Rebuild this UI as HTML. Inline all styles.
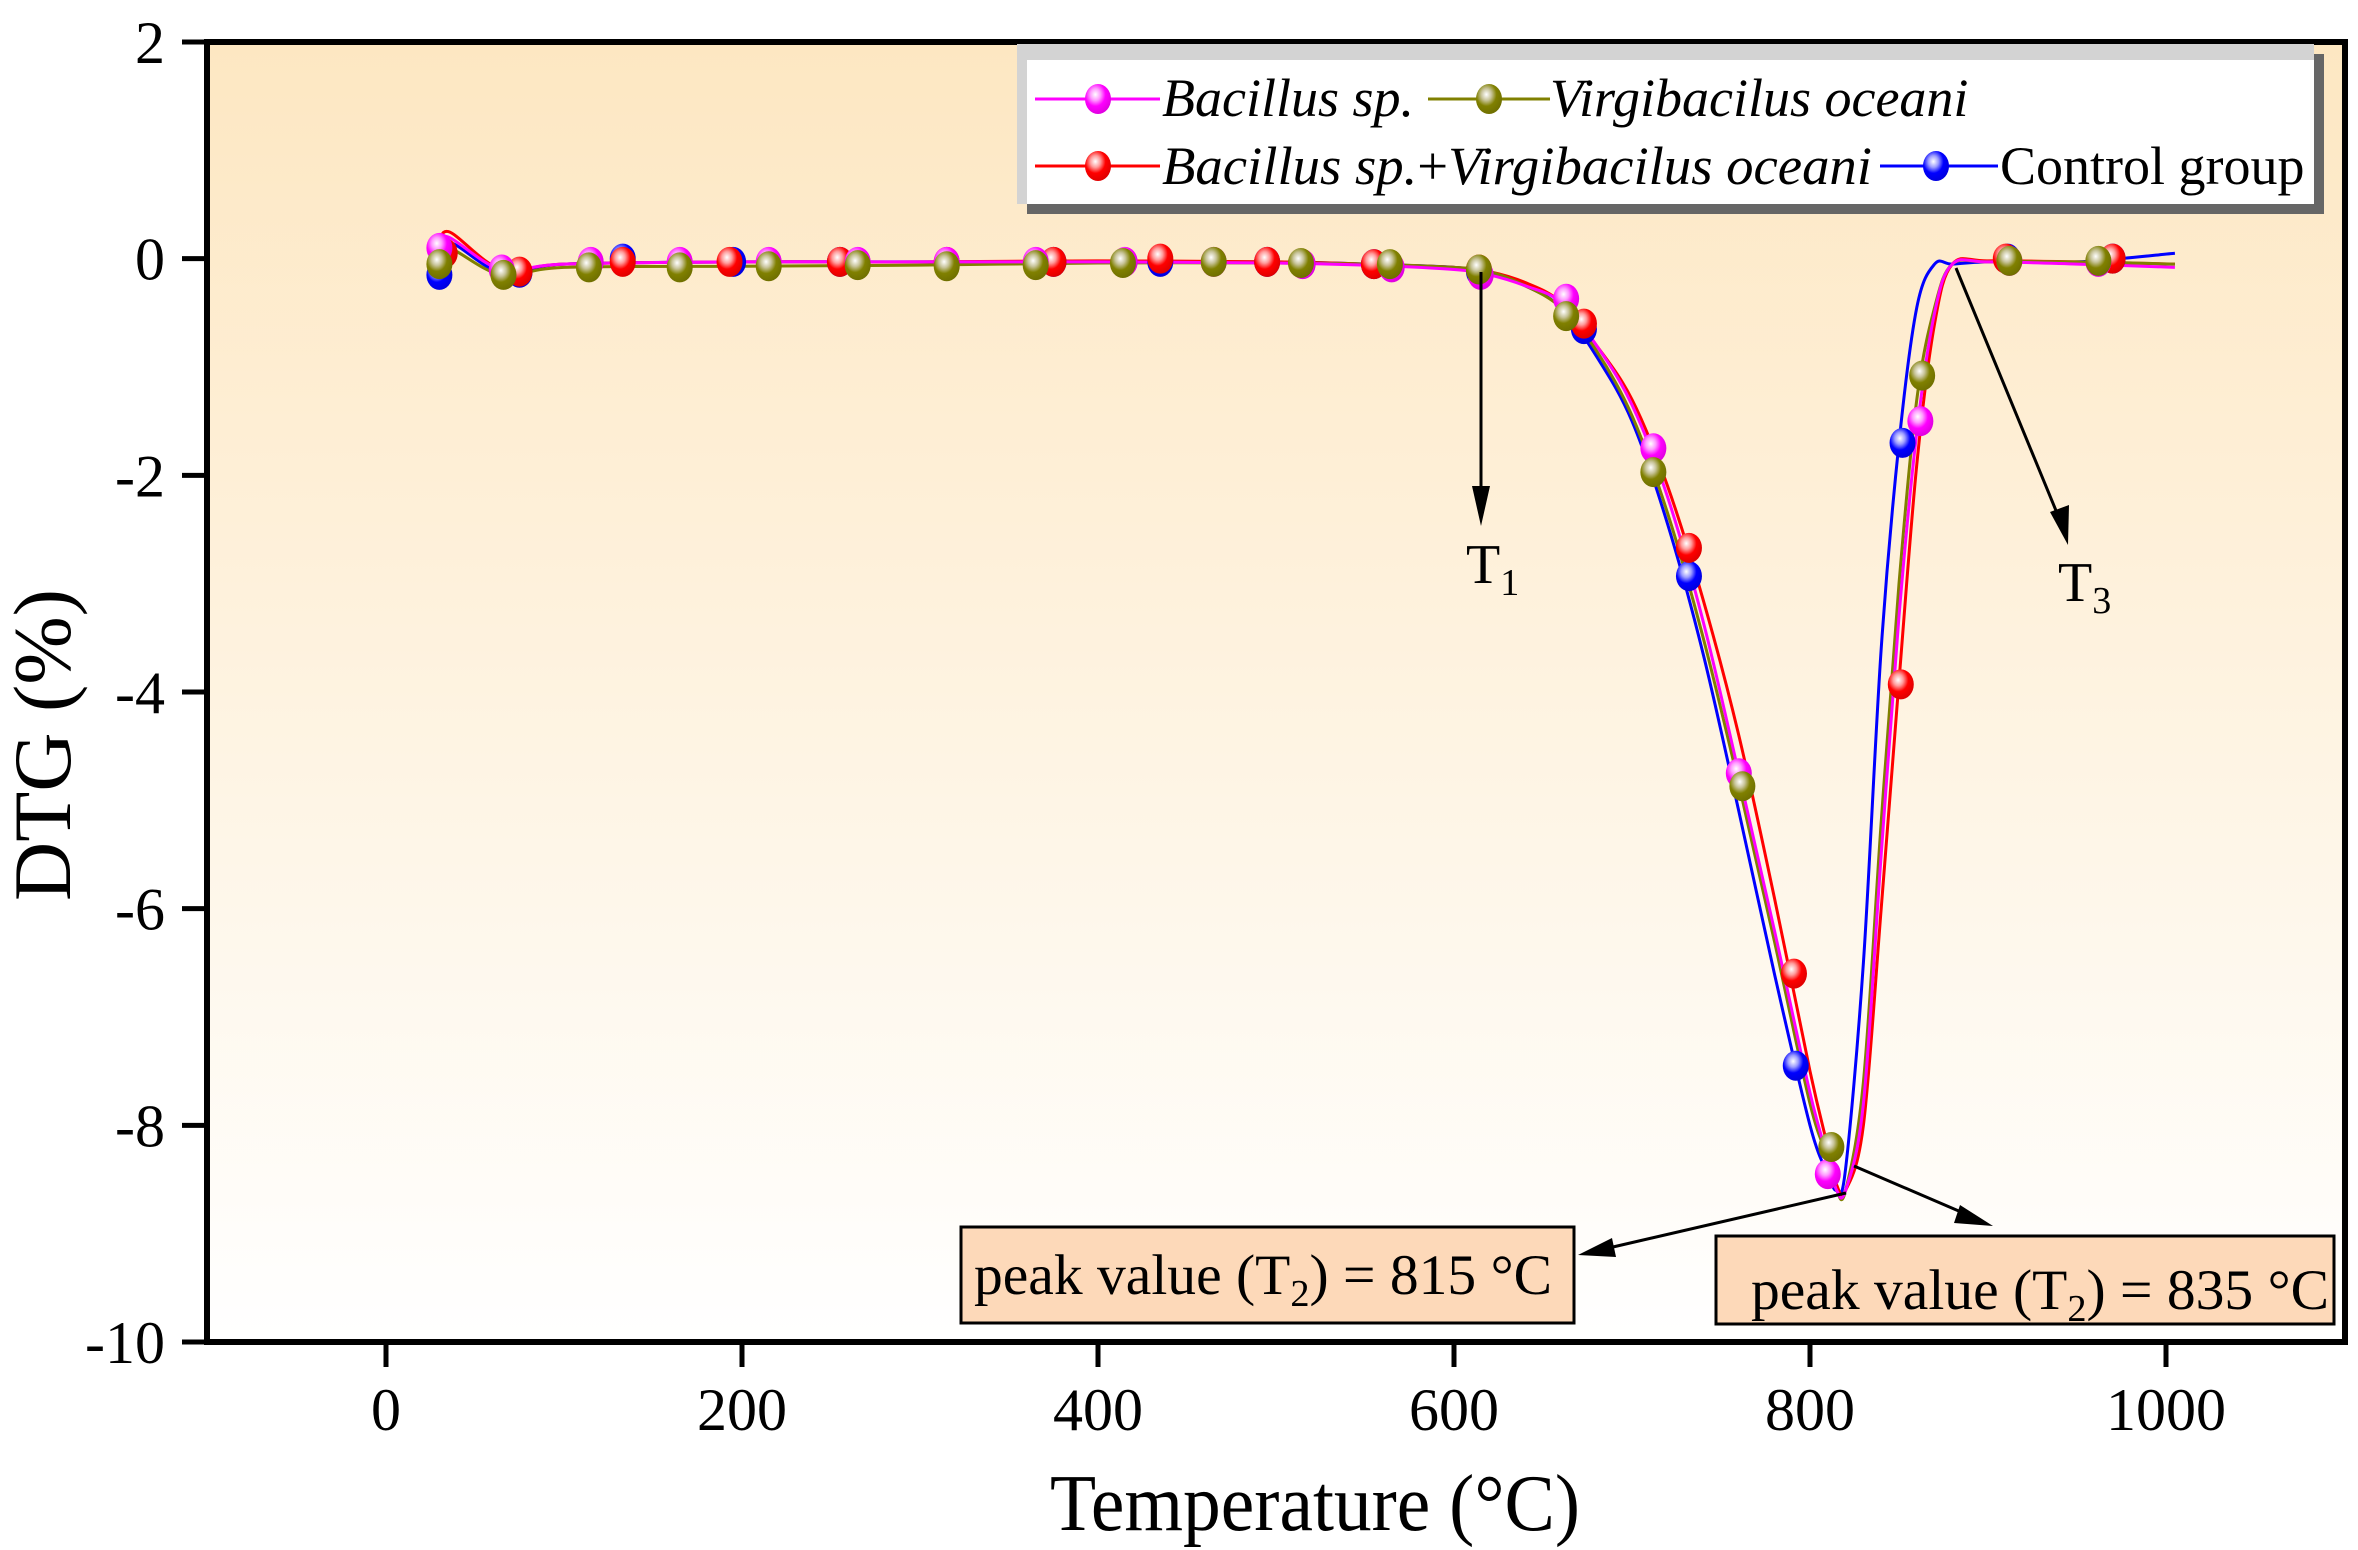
<!DOCTYPE html>
<html><head><meta charset="utf-8"><style>
html,body{margin:0;padding:0;background:#fff;}
svg{display:block;font-family:"Liberation Serif",serif;}
</style></head><body>
<svg id="chart" width="2358" height="1550" viewBox="0 0 2358 1550" xmlns="http://www.w3.org/2000/svg">
<defs>
<linearGradient id="bg" x1="0" y1="0" x2="0" y2="1">
<stop offset="0" stop-color="#fde7c2"/><stop offset="1" stop-color="#ffffff"/>
</linearGradient>
<radialGradient id="g-magenta" cx="0.4" cy="0.35" r="0.65"><stop offset="0" stop-color="#fff"/><stop offset="0.3" stop-color="#ff9cff"/><stop offset="0.6" stop-color="#ff00ff"/><stop offset="1" stop-color="#e000e0"/></radialGradient>
<radialGradient id="g-olive" cx="0.4" cy="0.35" r="0.65"><stop offset="0" stop-color="#fff"/><stop offset="0.3" stop-color="#c8c49a"/><stop offset="0.6" stop-color="#808000"/><stop offset="1" stop-color="#707000"/></radialGradient>
<radialGradient id="g-red" cx="0.4" cy="0.35" r="0.65"><stop offset="0" stop-color="#fff"/><stop offset="0.3" stop-color="#ff9c9c"/><stop offset="0.6" stop-color="#ff0000"/><stop offset="1" stop-color="#e00000"/></radialGradient>
<radialGradient id="g-blue" cx="0.4" cy="0.35" r="0.65"><stop offset="0" stop-color="#fff"/><stop offset="0.3" stop-color="#9c9cff"/><stop offset="0.6" stop-color="#0000ff"/><stop offset="1" stop-color="#0000e0"/></radialGradient>
</defs>
<rect x="207" y="42" width="2138" height="1300" fill="url(#bg)"/>
<g id="series"></g>
<g id="axes"></g>

<g>
<line x1="1481" y1="272" x2="1481" y2="514" stroke="#000" stroke-width="3"/>
<path d="M1472,486 L1481,526 L1490,486 Z" fill="#000"/>
<text x="1466" y="583" font-size="56">T<tspan font-size="38" dy="12">1</tspan></text>
<line x1="1956" y1="268" x2="2064" y2="530" stroke="#000" stroke-width="3"/>
<path d="M2050,512 L2068,545 L2069,505 Z" fill="#000"/>
<text x="2058" y="601" font-size="56">T<tspan font-size="38" dy="12">3</tspan></text>
<line x1="1846" y1="1193" x2="1600" y2="1250" stroke="#000" stroke-width="3"/>
<path d="M1612,1238 L1578,1255 L1616,1257 Z" fill="#000"/>
<line x1="1854" y1="1166" x2="1975" y2="1218" stroke="#000" stroke-width="3"/>
<path d="M1960,1205 L1993,1226 L1954,1223 Z" fill="#000"/>
<rect x="961" y="1227" width="613" height="96" fill="#fdd9b9" stroke="#000" stroke-width="3"/>
<text x="974" y="1294" font-size="57" textLength="578" lengthAdjust="spacingAndGlyphs">peak value (T<tspan font-size="38" dy="12">2</tspan><tspan dy="-12">) = 815 °C</tspan></text>
<rect x="1716" y="1236" width="618" height="88" fill="#fdd9b9" stroke="#000" stroke-width="3"/>
<text x="1751" y="1309" font-size="57" textLength="578" lengthAdjust="spacingAndGlyphs">peak value (T<tspan font-size="38" dy="12">2</tspan><tspan dy="-12">) = 835 °C</tspan></text>
</g>

<g>
<rect x="1027" y="54" width="1297" height="160" fill="#666"/>
<rect x="1017" y="44" width="1297" height="160" fill="#d3d3d3"/>
<rect x="1027" y="60" width="1287" height="144" fill="#fff"/>
<g>
<line x1="1035" y1="99" x2="1160" y2="99" stroke="#ff00ff" stroke-width="3"/><ellipse cx="1098" cy="99" rx="13" ry="15" fill="url(#g-magenta)"/>
<text x="1162" y="116" font-size="54" font-style="italic">Bacillus sp.</text></g>
<g>
<line x1="1428" y1="99" x2="1550" y2="99" stroke="#808000" stroke-width="3"/><ellipse cx="1489" cy="99" rx="13" ry="15" fill="url(#g-olive)"/>
<text x="1550" y="116" font-size="54" font-style="italic">Virgibacilus oceani</text></g>
<g>
<line x1="1035" y1="166" x2="1160" y2="166" stroke="#ff0000" stroke-width="3"/><ellipse cx="1098" cy="166" rx="13" ry="15" fill="url(#g-red)"/>
<text x="1162" y="184" font-size="54" textLength="710" lengthAdjust="spacingAndGlyphs"><tspan font-style="italic">Bacillus sp.</tspan>+<tspan font-style="italic">Virgibacilus oceani</tspan></text></g>
<g>
<line x1="1880" y1="166" x2="1998" y2="166" stroke="#0000ff" stroke-width="3"/><ellipse cx="1936" cy="166" rx="13" ry="15" fill="url(#g-blue)"/>
<text x="2000" y="184" font-size="54">Control group</text></g>
</g>
</svg>
<script>
const xTicks = [0, 200, 400, 600, 800, 1000];
const yTicks = [2, 0, -2, -4, -6, -8, -10];
const lineT = [30,35,65,100,200,300,400,500,550,600,620,640,660,680,700,720,740,760,780,800,810,815,820,830,840,850,860,870,880,900,950,1005];
const bacillusLine = [0.1,0.2,-0.1,-0.05,-0.03,-0.03,-0.03,-0.04,-0.06,-0.1,-0.15,-0.25,-0.4,-0.8,-1.35,-2.2,-3.35,-4.75,-6.2,-7.7,-8.3,-8.6,-8.6,-7.8,-5.5,-3.3,-1.6,-0.5,-0.05,-0.03,-0.05,-0.08];
const virgiLine = [-0.05,0.1,-0.15,-0.08,-0.07,-0.06,-0.04,-0.04,-0.05,-0.08,-0.12,-0.25,-0.45,-0.85,-1.45,-2.35,-3.5,-4.85,-6.3,-7.8,-8.3,-8.6,-8.6,-7.6,-5.2,-3.0,-1.3,-0.45,-0.05,-0.03,-0.03,-0.05];
const combinedLine = [0.05,0.25,-0.1,-0.05,-0.03,-0.03,-0.02,-0.03,-0.05,-0.08,-0.12,-0.22,-0.4,-0.8,-1.3,-2.1,-3.15,-4.4,-5.9,-7.5,-8.2,-8.55,-8.6,-8.0,-6.0,-3.9,-1.9,-0.6,-0.05,-0.02,-0.03,-0.05];
const controlLine = [-0.15,0.15,-0.13,-0.05,-0.03,-0.03,-0.03,-0.03,-0.05,-0.08,-0.13,-0.25,-0.45,-0.9,-1.5,-2.45,-3.65,-5.1,-6.6,-8.0,-8.45,-8.6,-8.4,-6.5,-3.6,-1.7,-0.45,-0.05,-0.05,-0.03,-0.03,0.05];
const bacillusMT = [30,65,115,165,215,265,315,365,415,465,515,565,615,663,712,760,810,862,912,962];
const bacillusMV = [0.1,-0.1,-0.03,-0.03,-0.03,-0.03,-0.03,-0.03,-0.03,-0.03,-0.05,-0.08,-0.15,-0.37,-1.75,-4.75,-8.45,-1.5,-0.02,-0.03];
const combinedMT = [33,75,133,193,255,315,375,435,495,555,614,673,732,791,851,910,970];
const combinedMV = [0.05,-0.12,-0.03,-0.03,-0.03,-0.03,-0.03,0,-0.03,-0.05,-0.1,-0.6,-2.67,-6.6,-3.93,0,0];
const controlMT = [30,75,133,195,255,375,435,495,555,614,673,732,792,852,911,970];
const controlMV = [-0.15,-0.13,0,-0.03,-0.03,-0.03,-0.03,-0.03,-0.05,-0.12,-0.65,-2.93,-7.45,-1.7,0,0];
const virgiMT = [30,66,114,165,215,265,315,365,414,465,514,564,614,663,712,762,812,863,912,962];
const virgiMV = [-0.05,-0.15,-0.08,-0.08,-0.07,-0.06,-0.07,-0.06,-0.04,-0.03,-0.04,-0.05,-0.1,-0.53,-1.97,-4.87,-8.2,-1.08,-0.02,-0.02];

const X0=386, X1=2166, Y2=42, YM10=1342, L=207, R=2345, T=42, B=1342;
const xs = t => X0 + (t/1000)*(X1-X0);
const ys = v => Y2 + (2-v)/12*(YM10-Y2);
const NS='http://www.w3.org/2000/svg';
const sg=document.getElementById('series'), ax=document.getElementById('axes');

function smoothPath(tx, vy){
  const p = tx.map((t,i)=>[xs(t),ys(vy[i])]);
  let d='M'+p[0][0]+','+p[0][1];
  for(let i=0;i<p.length-1;i++){
    const p0=p[i-1]||p[i], p1=p[i], p2=p[i+1], p3=p[i+2]||p2;
    const c1=[p1[0]+(p2[0]-p0[0])/6, p1[1]+(p2[1]-p0[1])/6];
    const c2=[p2[0]-(p3[0]-p1[0])/6, p2[1]-(p3[1]-p1[1])/6];
    d+=' C'+c1+' '+c2+' '+p2;
  }
  return d;
}
function drawLine(vals,color,name){
  const e=document.createElementNS(NS,'path');
  e.setAttribute('d',smoothPath(lineT,vals));
  e.setAttribute('fill','none');e.setAttribute('stroke',color);e.setAttribute('stroke-width','3');
  
  
  sg.appendChild(e);
}
function drawMarkers(tx,vy,grad,name){
  tx.forEach((t,i)=>{
    const c=document.createElementNS(NS,'ellipse');
    c.setAttribute('cx',xs(t));c.setAttribute('cy',ys(vy[i]));
    c.setAttribute('rx',13);c.setAttribute('ry',15);c.setAttribute('fill','url(#'+grad+')');
    
    
    sg.appendChild(c);
  });
}
drawLine(controlLine,'#0000ff','control-line');
drawLine(combinedLine,'#ff0000','combined-line');
drawLine(virgiLine,'#808000','virgibacilus-line');
drawLine(bacillusLine,'#ff00ff','bacillus-line');
drawMarkers(controlMT,controlMV,'g-blue','control-marker');
drawMarkers(combinedMT,combinedMV,'g-red','combined-marker');
drawMarkers(bacillusMT,bacillusMV,'g-magenta','bacillus-marker');
drawMarkers(virgiMT,virgiMV,'g-olive','virgibacilus-marker');

function mk(tag,attrs,text){const e=document.createElementNS(NS,tag);for(const k in attrs)e.setAttribute(k,attrs[k]);if(text!==undefined)e.textContent=text;ax.appendChild(e);return e;}
const frame=mk('rect',{x:L,y:T,width:R-L,height:B-T,fill:'none',stroke:'#000','stroke-width':6});


xTicks.forEach(t=>{
  const ln=mk('line',{x1:xs(t),x2:xs(t),y1:B,y2:B+25,stroke:'#000','stroke-width':5});
  
  
  const tx=mk('text',{x:xs(t),y:B+88,'font-size':60,'text-anchor':'middle'},String(t));
  
  
});
yTicks.forEach(v=>{
  const ln=mk('line',{x1:L-25,x2:L,y1:ys(v),y2:ys(v),stroke:'#000','stroke-width':5});
  
  
  const tx=mk('text',{x:L-42,y:ys(v)+21,'font-size':60,'text-anchor':'end'},String(v));
  
  
});
const xt=mk('text',{x:1050,y:1530,'font-size':80,textLength:530,lengthAdjust:'spacingAndGlyphs'},'Temperature (°C)');


const yt=mk('text',{x:0,y:0,'font-size':82,'text-anchor':'middle',transform:'translate(70,745) rotate(-90)'},'DTG (%)');


</script>
</body></html>
